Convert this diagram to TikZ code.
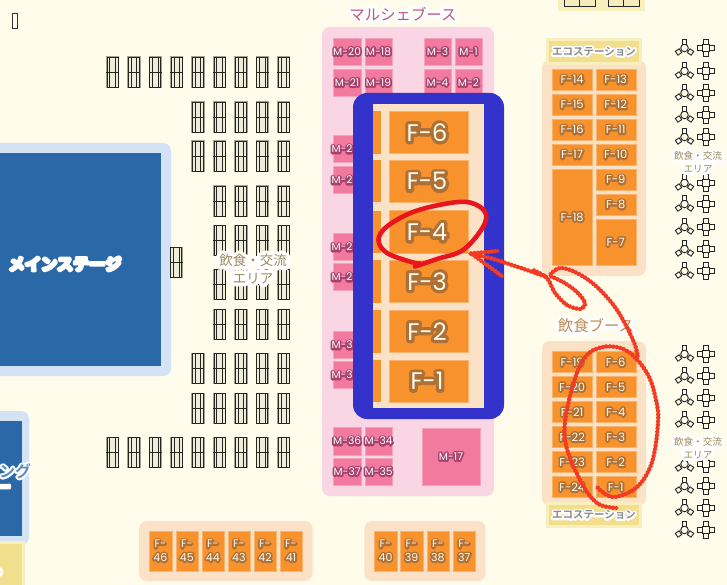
\documentclass[tikz,border=0pt]{standalone}
\usepackage{fontspec}
\setmainfont{Poppins}
\newfontfamily\jpf{Noto Sans CJK JP}
\newfontfamily\jpb{Noto Sans CJK JP Bold}
\definecolor{bgc}{HTML}{FFFCEB}
\definecolor{stagel}{HTML}{D3E2F4}
\definecolor{staged}{HTML}{2B68A8}
\definecolor{pinkbg}{HTML}{FAD5E3}
\definecolor{pinkbox}{HTML}{F27A9F}
\definecolor{maroon}{HTML}{A8406C}
\definecolor{peach}{HTML}{FBE1C5}
\definecolor{orangebox}{HTML}{F8922D}
\definecolor{brownh}{HTML}{AD7036}
\definecolor{framec}{HTML}{3333CC}
\definecolor{yelo}{HTML}{F8EFBC}
\definecolor{yeli}{HTML}{F2DF8E}
\definecolor{khaki}{HTML}{9C8A5C}
\definecolor{boothb}{HTML}{BE8A58}
\definecolor{marchec}{HTML}{B8587F}
\definecolor{redc}{HTML}{E8141E}
\definecolor{scrib}{HTML}{F23A24}
\definecolor{seatg}{HTML}{A3A391}
\definecolor{seatd}{HTML}{26261E}
\tikzset{
  x=1pt,y=-1pt,
  lab/.style={inner sep=0pt,outer sep=0pt,align=center},
  mbox/.style={fill=pinkbox,draw=pinkbox!70!white,line width=.4pt},
  fbox/.style={fill=orangebox,draw=orangebox!70!white,line width=.4pt},
  seatout/.style={draw=seatg,line width=1pt,fill=seatg!18!bgc},
  seatin/.style={draw=seatd,line width=.75pt},
  chair/.style={draw=black!85,line width=.9pt,fill=bgc},
  scribble/.style={draw=scrib,line width=3.1pt,line cap=round,line join=round},
  rough/.style={draw=scrib,line width=4.2pt,dash pattern=on 1.8pt off 1.7pt},
}
% halo label text: a stroked copy (PDF text render mode 1) under the filled text
\makeatletter
\newcommand\hl[4]{\mbox{\rlap{\textcolor{#3}{\special{pdf:code q 1 j 1 J 1 Tr \strip@pt\dimexpr 2\dimexpr #2\relax\relax\space w}#1\special{pdf:code 0 Tr Q}}}\textcolor{#4}{#1}}}
\makeatother
\newcommand\mlab[4]{\node[lab,font=\fontsize{10.6}{10.6}\selectfont] (#1) at (#2,#3) {\hl{#4}{1.7pt}{maroon}{white}};}
\newcommand\flab[4]{\node[lab,font=\fontsize{11.5}{11.5}\selectfont] (#1) at (#2,#3) {\hl{#4}{1.8pt}{brownh}{bgc}};}
\newcommand\mcell[5]{\path[mbox] (#1,#2) rectangle (#3,#4);\mlab{m#5}{{(#1+#3)/2}}{{(#2+#4)/2}}{M-#5}}
\newcommand\fcell[5]{\path[fbox] (#1,#2) rectangle (#3,#4);\flab{f#5}{{(#1+#3)/2}}{{(#2+#4)/2}}{F-#5}}
\newcommand\tcell[5]{\path[fbox] (#1,#2) rectangle (#3,#4);
  \node[lab,font=\fontsize{11}{13.5}\selectfont] (t#5) at ({(#1+#3)/2},{(#2+#4)/2}) {\hl{F-}{1.8pt}{brownh}{bgc}\\\hl{#5}{1.8pt}{brownh}{bgc}};}
\newcommand\bigf[3]{\path[fill=orangebox] (373.3,#1) rectangle (381.3,#2);
  \path[fbox] (388.7,#1) rectangle (468.3,#2);
  \node[lab,font=\fontsize{24}{24}\selectfont] (big#3) at (427,{(#1+#2)/2}) {\hl{F-#3}{3.2pt}{brownh}{bgc}};}
\newcommand\seatunit[2]{%
  \path[seatout] (#1,#2) rectangle ++(12.5,30.5);
  \draw[seatin] ({#1+.8},#2) rectangle ({#1+11.8},{#2+30.5});
  \draw[seatin] ({#1+3.6},#2) -- ++(0,30.5) ({#1+9},#2) -- ++(0,30.5) (#1,{#2+15.2}) -- ++(12.5,0);
}
\newcommand\trio[2]{%
  \draw[chair] ({#1},{#2}) circle (3.8pt);
  \draw[chair] ({#1-2.4},{#2-8.5}) rectangle ++(4.8,4.8);
  \draw[chair,rotate around={35:({#1-6},{#2+4})}] ({#1-8.3},{#2+1.7}) rectangle ++(4.6,4.6);
  \draw[chair,rotate around={-35:({#1+6},{#2+4})}] ({#1+3.7},{#2+1.7}) rectangle ++(4.6,4.6);
}
\newcommand\crossu[2]{%
  \draw[chair] ({#1-3.2},{#2-3.2}) rectangle ++(6.4,6.4);
  \draw[chair] ({#1-2.3},{#2-8.5}) rectangle ++(4.6,4.6);
  \draw[chair] ({#1-2.3},{#2+3.9}) rectangle ++(4.6,4.6);
  \draw[chair] ({#1-8.5},{#2-2.3}) rectangle ++(4.6,4.6);
  \draw[chair] ({#1+3.9},{#2-2.3}) rectangle ++(4.6,4.6);
}
\newcommand\arealab[3]{%
  \node[lab,font=\jpf\fontsize{9.6}{13}\selectfont] (#1) at (#2,#3) {\hl{飲食・交流}{3pt}{white}{khaki}\\\hl{エリア}{3pt}{white}{khaki}};}
\newcommand\ecost[5]{%
  \path[fill=yelo] (#2,#3) rectangle (#4,#5);
  \path[fill=yeli] ({#2+3},{#3+3.3}) rectangle ({#4-3},{#5-3.3});
  \node[lab,font=\jpb\fontsize{10.5}{10.5}\selectfont] (#1) at ({(#2+#4)/2},{(#3+#5)/2}) {\hl{エコステーション}{1.8pt}{white}{white!55!black}};}
\newcommand\scribcurve[2]{%
  \draw[scribble] plot[smooth,tension=#1] coordinates {#2};
  \draw[rough] plot[smooth,tension=#1] coordinates {#2};}
\begin{document}
\begin{tikzpicture}
\useasboundingbox (0,0) rectangle (727,585);
\clip (0,0) rectangle (727,585);
\fill[bgc] (0,0) rectangle (727,585);
% tofu mark
\draw[black!80,line width=.8pt,fill=bgc] (12.5,13.5) rectangle (17.5,28.5);
% stages
\path[fill=stagel,rounded corners=8pt] (-20,143) rectangle (171,376);
\path[fill=staged] (-20,153) rectangle (161,366);
\node[lab,font=\jpb\fontsize{16.2}{16.2}\selectfont] (stage) at (65,264) {\hl{メインステージ}{1.6pt}{white}{white}};
\path[fill=stagel,rounded corners=8pt] (-20,411) rectangle (29,545);
\path[fill=staged] (-20,421) rectangle (22,536);
\path[fill=yelo] (-20,541) rectangle (25,600);
\path[fill=yeli] (-20,544) rectangle (22,600);
\node[lab,font=\jpb\fontsize{16}{16}\selectfont] (stageb) at (15,471) {\hl{ング}{2pt}{white}{staged!75!white}};
\node[lab,font=\jpb\fontsize{16}{16}\selectfont] (stagec) at (3,489) {\hl{ー}{1.6pt}{white}{white}};
\draw[white,line width=2.5pt] (-1,568) .. controls (3,569) and (3,575) .. (-1,576);
% seats
\foreach \yy in {57,437}{\foreach \ii in {0,...,8}{\seatunit{106.2+21.4*\ii}{\yy}}}
\foreach \yy in {102,141,353,393}{\foreach \ii in {0,...,4}{\seatunit{191.8+21.4*\ii}{\yy}}}
\foreach \yy in {186,225,269,309}{\foreach \ii in {0,...,3}{\seatunit{213.2+21.4*\ii}{\yy}}}
\seatunit{170}{247}
\node[lab,font=\jpf\fontsize{13.5}{17.5}\selectfont] (areamid) at (253,269) {\hl{飲食・交流}{3.8pt}{white}{khaki}\\\hl{エリア}{3.8pt}{white}{khaki}};
% marche zone
\path[fill=pinkbg,rounded corners=8pt] (322,27) rectangle (494,496);
\node[lab,font=\jpf\fontsize{15.4}{15.4}\selectfont] (marche) at (403,14) {\hl{マルシェブース}{3pt}{white}{marchec}};
\mcell{333.5}{38}{360.7}{65}{20}
\mcell{365}{38}{392}{65}{18}
\mcell{424}{38}{451}{65}{3}
\mcell{455}{38}{482}{65}{1}
\mcell{333.5}{69}{360.7}{96}{21}
\mcell{365}{69}{392}{96}{19}
\mcell{424}{69}{451}{96}{4}
\mcell{455}{69}{482}{96}{2}
\foreach \yy/\tn/\nn in {135/2/a,166/2/b,233/2/c,263/2/d,331/3/e,361/3/f}{
  \path[mbox] (333.5,\yy) rectangle (361,{\yy+27});
  \node[lab,anchor=west,font=\fontsize{10.6}{10.6}\selectfont] (mc\nn) at (331.5,{\yy+14}) {\hl{M-\tn}{1.7pt}{maroon}{white}};
}
\mcell{333.5}{427}{360.7}{455}{36}
\mcell{365}{427}{392}{455}{34}
\mcell{333.5}{458}{360.7}{485}{37}
\mcell{365}{458}{392}{485}{35}
\mcell{422}{428}{480}{485}{17}
% blue frame
\path[fill=framec,rounded corners=14pt] (353,93) rectangle (504,419);
\path[fill=peach] (373.3,104) rectangle (484,408);
\bigf{111}{153.7}{6}
\bigf{160}{202.5}{5}
\bigf{210.7}{253}{4}
\bigf{260}{302.5}{3}
\bigf{310}{352.5}{2}
\bigf{360}{402}{1}
% top fragment
\path[fill=yelo] (558,-5) rectangle (645,11);
\foreach \xa in {564,608}{
  \draw[black!85,line width=.8pt,fill=yeli!60!white] (\xa,-4) rectangle ++(31,10);
  \draw[black!85,line width=.8pt] ({\xa+15.5},-4) -- ++(0,10);
}
% right food booths
\path[fill=peach,rounded corners=8pt] (542,60) rectangle (646,276);
\ecost{ecoa}{546}{38}{642}{65}
\foreach \yy/\na/\nb in {69/14/13,94/15/12,119/16/11,144/17/10}{
  \fcell{552.3}{\yy}{592}{\yy+21}{\na}
  \fcell{595.7}{\yy}{635.7}{\yy+21}{\nb}
}
\fcell{552.3}{169}{592}{265}{18}
\fcell{595.7}{169}{635.7}{190}{9}
\fcell{595.7}{194}{635.7}{215}{8}
\fcell{595.7}{219}{635.7}{265}{7}
\path[fill=peach,rounded corners=8pt] (542,341) rectangle (646,506);
\foreach \yy/\na/\nb in {351/19/6,376/20/5,401/21/4,426/22/3,451/23/2,476/24/1}{
  \path[fbox] (552.3,\yy) rectangle (592,\yy+21);
  \path[fbox] (595.7,\yy) rectangle (635.7,\yy+21);
  \node[lab,font=\fontsize{11.5}{11.5}\selectfont] (fl\na) at (572.2,\yy+11) {\hl{F-\na}{1.8pt}{brownh}{bgc}};
  \node[lab,font=\fontsize{11.5}{11.5}\selectfont] (fr\nb) at (615.7,\yy+11) {\hl{F-\nb}{1.8pt}{brownh}{bgc}};
}
\ecost{ecob}{546}{502}{642}{528}
\node[lab,font=\jpf\fontsize{15.4}{15.4}\selectfont] (booth) at (596,326) {\hl{飲食ブース}{3.4pt}{white}{boothb}};
% bottom booths
\path[fill=peach,rounded corners=8pt] (139,521) rectangle (312.7,581);
\tcell{149}{531}{171.7}{570.7}{46}
\tcell{175.7}{531}{198}{570.7}{45}
\tcell{201.7}{531}{224}{570.7}{44}
\tcell{227.7}{531}{250}{570.7}{43}
\tcell{254}{531}{276}{570.7}{42}
\tcell{280}{531}{302}{570.7}{41}
\path[fill=peach,rounded corners=8pt] (364.3,521) rectangle (485.7,581);
\tcell{374.3}{531}{396.7}{570.7}{40}
\tcell{400.3}{531}{422.7}{570.7}{39}
\tcell{426.7}{531}{449}{570.7}{38}
\tcell{453}{531}{475.5}{570.7}{37}
% table clusters
\foreach \yy in {48,71,93,115,137,183,204,227,249,271,354,376,398,420,464,486,508,530}{
  \trio{684.5}{\yy}
  \crossu{706}{\yy}
}
\arealab{areaup}{698}{162}
\arealab{arealow}{698}{448}
% hand drawn marks
\draw[draw=redc,line width=4.6pt,line cap=round,line join=round] plot[smooth,tension=.6] coordinates {
 (415,266.5) (437,259) (463,250) (483,227) (485,212) (470,202.5) (447,203.5) (413,212) (387,226.5) (378.5,240) (387,253) (413,262.5) (420,263.5)};
\scribcurve{.5}{(533,270) (547,278) (555,293) (567,305) (580,309) (585,303) (577,292) (563,282) (550,276)}
\scribcurve{.5}{(470,253.5) (490,258) (515,266) (547,277)}
\scribcurve{0}{(470,253.5) (498,251)}
\scribcurve{0}{(472,254) (502.5,276.5)}
\scribcurve{.6}{(550,275) (560,268) (577,273) (597,287) (617,310) (633,340) (638,357)}
\scribcurve{.6}{(597,487) (613,497) (637,487) (652,462) (658,423) (656,400) (647,373) (627,351) (603,347) (583,360) (569,400) (565,440) (580,480) (597,503) (617,508)}
\end{tikzpicture}
\end{document}
